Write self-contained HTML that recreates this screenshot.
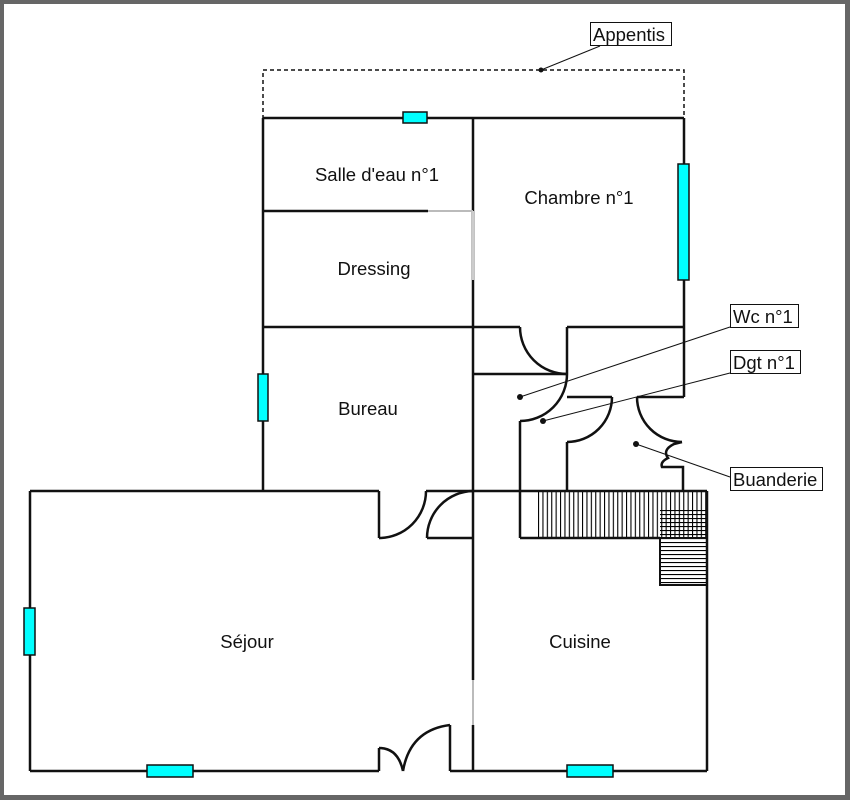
<!DOCTYPE html>
<html><head><meta charset="utf-8"><style>
html,body{margin:0;padding:0;background:#666;}
svg{display:block}
text{font-family:"Liberation Sans",sans-serif;font-size:18.5px;fill:#111}
</style></head><body>
<svg width="850" height="800" viewBox="0 0 850 800" xmlns="http://www.w3.org/2000/svg">
<defs>
<pattern id="vl" x="538" y="0" width="4.4" height="10" patternUnits="userSpaceOnUse"><line x1="0.5" y1="0" x2="0.5" y2="10" stroke="#000" stroke-width="1.2"/></pattern>
<pattern id="hl" x="0" y="510" width="10" height="4" patternUnits="userSpaceOnUse"><line x1="0" y1="0.5" x2="10" y2="0.5" stroke="#000" stroke-width="1.2"/></pattern>
</defs>
<rect x="0" y="0" width="850" height="800" fill="#666"/>
<rect x="4" y="4" width="841" height="791" fill="#fff"/>
<!-- appentis -->
<rect x="263" y="70" width="421" height="48" fill="none" stroke="#111" stroke-width="1.5" stroke-dasharray="4,3"/>
<!-- stairs -->
<rect x="538" y="491" width="122" height="47" fill="url(#vl)"/>
<rect x="660" y="491" width="47" height="47" fill="url(#vl)"/>
<rect x="660" y="510" width="47" height="75" fill="url(#hl)"/>
<g fill="none" stroke="#111" stroke-width="2.5">
<line x1="263" y1="118" x2="684" y2="118"/>
<line x1="263" y1="118" x2="263" y2="491"/>
<line x1="473" y1="118" x2="473" y2="491"/>
<line x1="684" y1="118" x2="684" y2="397"/>
<line x1="263" y1="211" x2="428" y2="211"/>
<line x1="263" y1="327" x2="520" y2="327"/>
<line x1="567" y1="327" x2="684" y2="327"/>
<line x1="473" y1="374" x2="567" y2="374"/>
<line x1="567" y1="327" x2="567" y2="374"/>
<path d="M520 327 A47 47 0 0 0 567 374"/>
<path d="M567 374 A47 47 0 0 1 520 421"/>
<line x1="520" y1="421" x2="520" y2="538"/>
<line x1="567" y1="397" x2="612" y2="397"/>
<line x1="637" y1="397" x2="684" y2="397"/>
<path d="M612 397 A45 45 0 0 1 567 442"/>
<line x1="567" y1="442" x2="567" y2="491"/>
<path d="M637 397 A45 45 0 0 0 682 442"/>
<path d="M682 442 L674 444 Q662 450 668 458 Q660 462 662 467 L683 467 L683 491"/>
<line x1="30" y1="491" x2="379" y2="491"/>
<line x1="426" y1="491" x2="707" y2="491"/>
<line x1="379" y1="491" x2="379" y2="538"/>
<path d="M379 538 A47 47 0 0 0 426 491"/>
<path d="M473 491 A47 47 0 0 0 427 538"/>
<line x1="427" y1="538" x2="473" y2="538"/>
<line x1="473" y1="491" x2="473" y2="680"/>
<line x1="473" y1="725" x2="473" y2="771"/>
<line x1="520" y1="538" x2="660" y2="538"/>
<rect x="660" y="538" width="47" height="47" stroke-width="2"/>
<line x1="707" y1="491" x2="707" y2="771"/>
<line x1="30" y1="491" x2="30" y2="771"/>
<line x1="30" y1="771" x2="379" y2="771"/>
<line x1="379" y1="771" x2="379" y2="748"/>
<path d="M379 748 Q398 748 403 771"/>
<path d="M403 771 Q410 730 450 725"/>
<line x1="450" y1="725" x2="450" y2="771"/>
<line x1="450" y1="771" x2="707" y2="771"/>
</g>
<g stroke="#bbb" stroke-width="2">
<line x1="428" y1="211" x2="473" y2="211"/>
<line x1="473" y1="680" x2="473" y2="725"/>
</g>
<line x1="473" y1="211" x2="473" y2="280" stroke="#ccc" stroke-width="2"/>
<g fill="#00ffff" stroke="#111" stroke-width="1.5">
<rect x="403" y="112" width="24" height="11"/>
<rect x="678" y="164" width="11" height="116"/>
<rect x="258" y="374" width="10" height="47"/>
<rect x="24" y="608" width="11" height="47"/>
<rect x="147" y="765" width="46" height="12"/>
<rect x="567" y="765" width="46" height="12"/>
</g>
<g stroke="#111" stroke-width="1">
<line x1="541" y1="70" x2="600" y2="46"/>
<line x1="520" y1="397" x2="730" y2="327"/>
<line x1="543" y1="421" x2="730" y2="373"/>
<line x1="636" y1="444" x2="730" y2="477"/>
</g>
<g fill="#111">
<circle cx="541" cy="70" r="2.5"/><circle cx="520" cy="397" r="3"/><circle cx="543" cy="421" r="3"/><circle cx="636" cy="444" r="3"/>
</g>
<g fill="#fff" stroke="#111" stroke-width="1">
<rect x="590.5" y="22.5" width="81" height="23"/>
<rect x="730.5" y="304.5" width="68" height="23"/>
<rect x="730.5" y="350.5" width="70" height="23"/>
<rect x="730.5" y="467.5" width="92" height="23"/>
</g>
<text x="593" y="41">Appentis</text>
<text x="733" y="323">Wc n°1</text>
<text x="733" y="369">Dgt n°1</text>
<text x="733" y="486">Buanderie</text>
<text x="377" y="181" text-anchor="middle">Salle d'eau n°1</text>
<text x="579" y="204" text-anchor="middle">Chambre n°1</text>
<text x="374" y="275" text-anchor="middle">Dressing</text>
<text x="368" y="415" text-anchor="middle">Bureau</text>
<text x="247" y="648" text-anchor="middle">Séjour</text>
<text x="580" y="648" text-anchor="middle">Cuisine</text>
</svg>
</body></html>
